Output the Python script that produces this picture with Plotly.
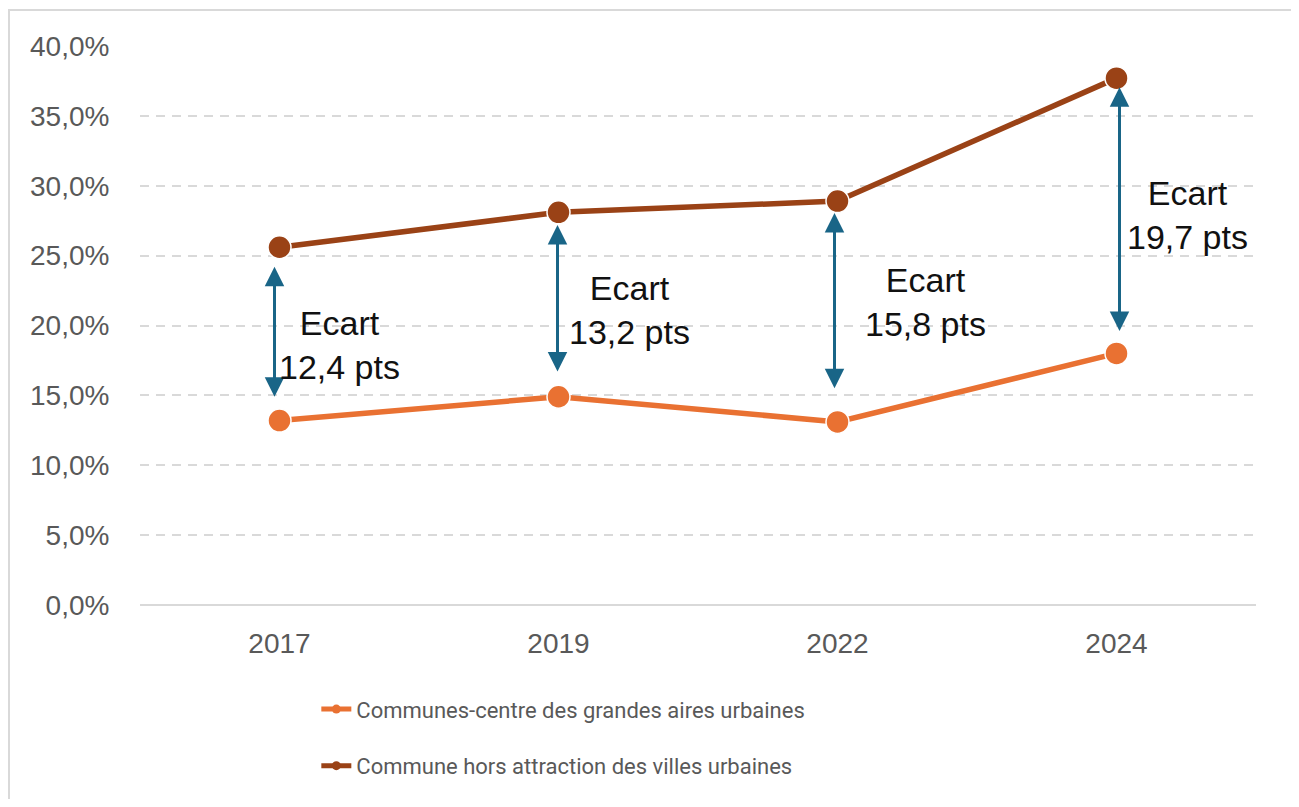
import plotly.graph_objects as go

# --- data ---
years = ["2017", "2019", "2022", "2024"]
centre = [13.2, 14.9, 13.1, 18.0]       # Communes-centre des grandes aires urbaines
hors_aav = [25.6, 28.1, 28.9, 37.7]     # Commune hors attraction des villes urbaines
ecarts = ["12,4", "13,2", "15,8", "19,7"]
y_ticks = [0, 5, 10, 15, 20, 25, 30, 35, 40]
y_ticktext = [f"{v:.1f}".replace(".", ",") + "%" for v in y_ticks]

C_ORANGE = "#E97132"
C_BROWN = "#9A4216"
C_ARROW = "#196587"
C_GRID = "#D9D9D9"
C_TEXT = "#595959"
FONT = "Liberation Sans, Arial, sans-serif"

# arrow ends in percent points (top / bottom), label placement
arrow_top = [24.2, 27.2, 28.05, 37.05]
arrow_bot = [14.8, 16.6, 15.4, 19.5]
arrow_dx = [-5, -1, -3, 3]
label_y = [18.6, 21.1, 21.7, 27.9]
label_dx = [60, 71, 88, 71]

fig = go.Figure()
for name, vals, col in [
    ("Communes-centre des grandes aires urbaines", centre, C_ORANGE),
    ("Commune hors attraction des villes urbaines", hors_aav, C_BROWN),
]:
    fig.add_trace(go.Scatter(
        x=years, y=vals, mode="lines+markers", name=name, showlegend=False,
        line=dict(color=col, width=5.5),
        marker=dict(size=23, color=col, line=dict(color="white", width=1.5)),
    ))
    # legend-only entry with a small marker, like the original
    fig.add_trace(go.Scatter(
        x=[None], y=[None], mode="lines+markers", name=name, legendgroup=name,
        line=dict(color=col, width=5),
        marker=dict(size=9, color=col),
    ))

annotations = []
for i, yr in enumerate(years):
    # double-headed arrow (category index used as x position)
    annotations.append(dict(
        x=i, y=arrow_top[i], ax=i, ay=arrow_bot[i],
        xref="x", yref="y", axref="x", ayref="y",
        xshift=arrow_dx[i], text="", showarrow=True,
        arrowside="end+start", arrowhead=2, startarrowhead=2,
        arrowsize=1.3, startarrowsize=1.3, arrowwidth=3, arrowcolor=C_ARROW,
    ))
    annotations.append(dict(
        x=i, y=label_y[i], xref="x", yref="y", xshift=label_dx[i],
        text=f"Ecart<br>{ecarts[i]} pts", showarrow=False, align="center",
        font=dict(family=FONT, size=34, color="#111111"),
    ))

# page has an 8px body margin, so the figure is sized to the inner area
fig.update_layout(
    width=1283, height=791,
    margin=dict(l=132, r=35, t=38, b=194),
    paper_bgcolor="white", plot_bgcolor="white",
    font=dict(family=FONT, color=C_TEXT),
    annotations=annotations,
    showlegend=True,
    legend=dict(
        orientation="v", x=0.158, xanchor="left",
        yref="container", y=0.14, yanchor="top",
        font=dict(family="Roboto, " + FONT, size=22, color=C_TEXT), tracegroupgap=25,
        bgcolor="rgba(0,0,0,0)",
    ),
    shapes=[dict(
        type="rect", xref="paper", yref="paper",
        x0=-0.1174, x1=1.0323, y0=-0.4, y1=1.0644,
        line=dict(color=C_GRID, width=2), layer="below",
    )],
)
fig.update_xaxes(
    type="category", range=[-0.5, 3.5], showgrid=False, showline=False, zeroline=False,
    ticks="outside", ticklen=13, tickcolor="rgba(0,0,0,0)",
    tickfont=dict(family=FONT, size=28, color=C_TEXT),
)
fig.update_yaxes(
    range=[0, 40], tickvals=y_ticks, ticktext=y_ticktext,
    showgrid=True, gridcolor=C_GRID, gridwidth=1.5, griddash="9px,7px",
    zeroline=True, zerolinecolor=C_GRID, zerolinewidth=2,
    showline=False, ticks="outside", ticklen=24, tickcolor="rgba(0,0,0,0)",
    tickfont=dict(family=FONT, size=28, color=C_TEXT),
)

fig.write_html("out.html")
